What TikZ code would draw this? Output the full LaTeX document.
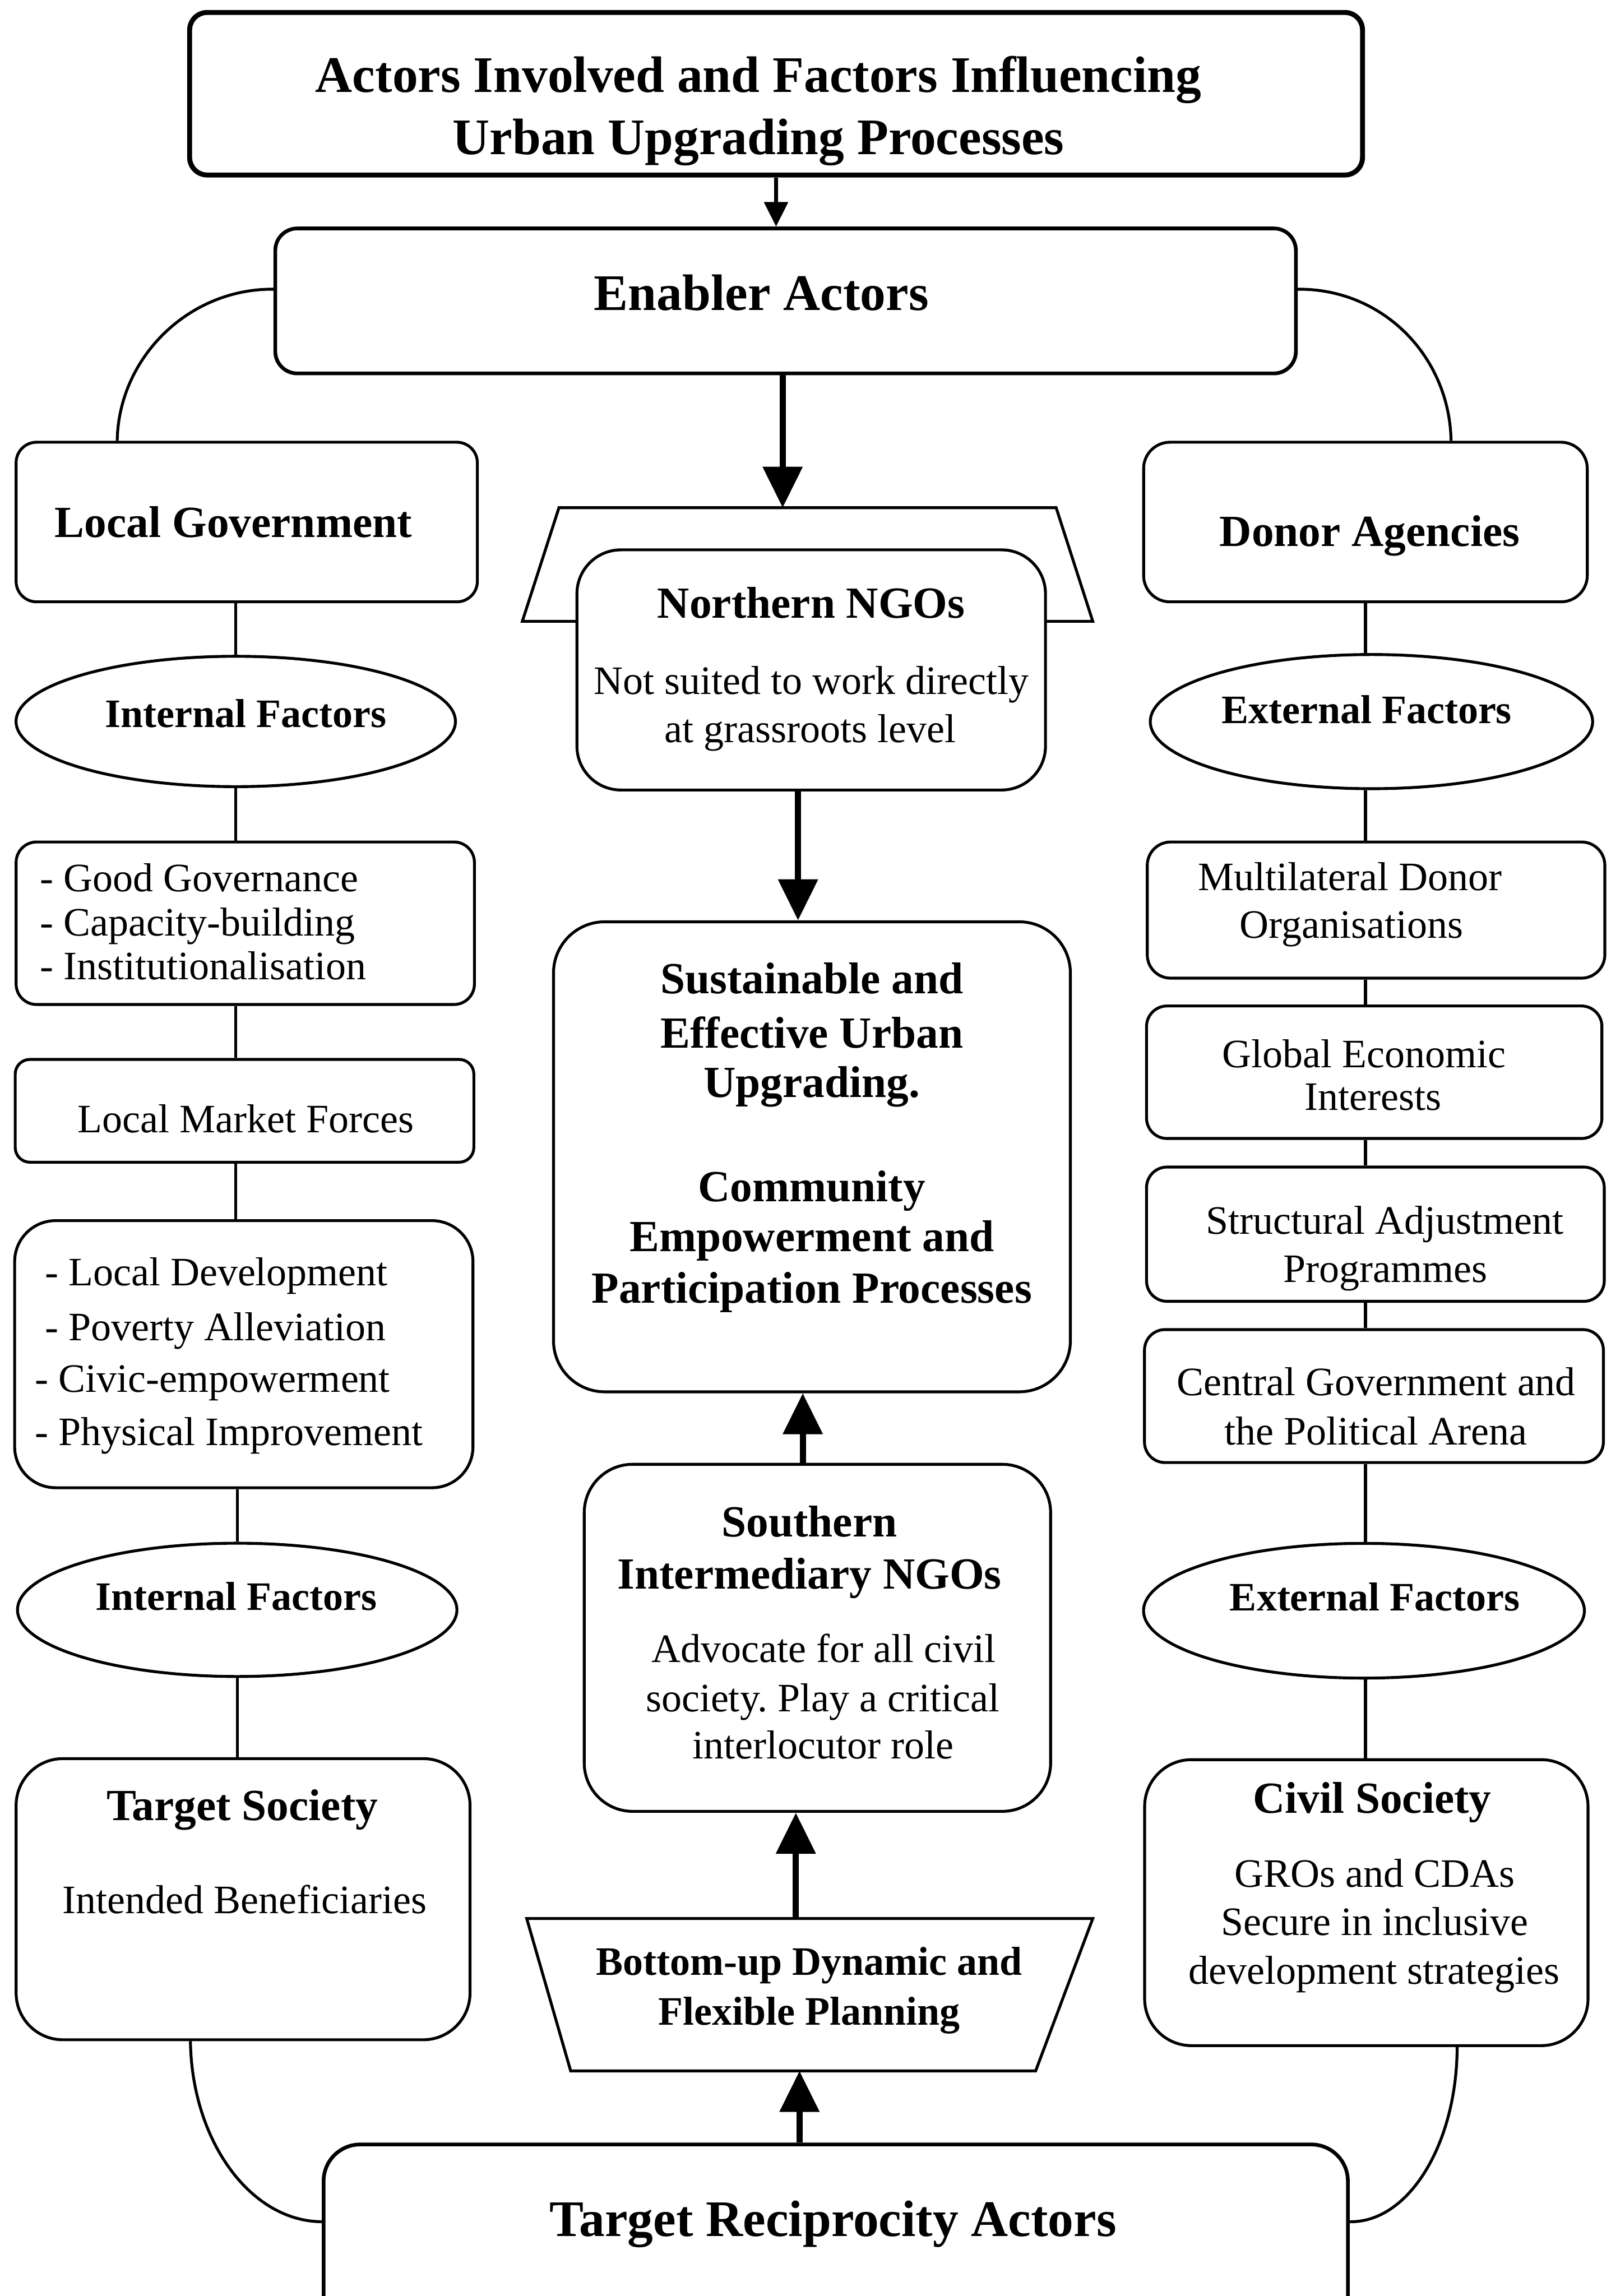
\documentclass[tikz,border=0pt]{standalone}
\usepackage{fontspec}
\setmainfont{Liberation Serif}
\usetikzlibrary{arrows.meta,shapes.geometric,fit,calc}
\frenchspacing

\begin{document}
\begin{tikzpicture}[x=0.025cm,y=-0.025cm,
  box/.style={draw, line width=1.4pt, fill=white, inner sep=0pt},
  oval/.style={draw, ellipse, line width=1.4pt, fill=white, inner sep=0pt},
  link/.style={line width=1.4pt},
  flow/.style={line width=3pt, -{Triangle[length=0.7cm,width=0.66cm]}},
  smallflow/.style={line width=2pt, -{Triangle[length=0.42cm,width=0.4cm]}},
  ttl/.style={font=\bfseries\fontsize{24.9}{30}\selectfont, inner sep=0pt, anchor=base},
  hd/.style={font=\bfseries\fontsize{21.6}{26}\selectfont, inner sep=0pt, anchor=base},
  fb/.style={font=\bfseries\fontsize{19.6}{23}\selectfont, inner sep=0pt, anchor=base},
  tx/.style={font=\fontsize{19.6}{23}\selectfont, inner sep=0pt, anchor=base},
  txl/.style={tx, anchor=base west}
]
\path[use as bounding box, fill=white] (0,0) rectangle (1100,1568);
\clip (0,0) rectangle (1100,1568);

% ---------- top of the chart ----------
\node[box, line width=2.4pt, rounded corners=0.3cm, fit={(129.5,8.5)(930.5,119.5)}] (title) {};
\node[ttl] (t-title1) at (518,63) {Actors Involved and Factors Influencing};
\node[ttl] (t-title2) at (518,105.3) {Urban Upgrading Processes};

\node[box, line width=1.8pt, rounded corners=0.375cm, fit={(188,156)(885,255)}] (enabler) {};
\node[ttl] (t-enabler) at (520,212) {Enabler Actors};

% ---------- centre column ----------
\node[inner sep=0pt, fit={(357,347)(746,424)}] (ntrap) {};
\draw[link] (ntrap.south west) -- ([xshift=0.625cm]ntrap.north west)
  -- ([xshift=-0.625cm]ntrap.north east) -- (ntrap.south east) -- cycle;

\node[box, rounded corners=0.75cm, fit={(394,375.5)(714,539.5)}] (north) {};
\node[hd] (t-north) at (554,422) {Northern NGOs};
\node[tx] (t-north1) at (554,474) {Not suited to work directly};
\node[tx] (t-north2) at (553.5,507) {at grassroots level};

\node[box, rounded corners=0.875cm, fit={(378,629.5)(731,950.5)}] (sust) {};
\node[hd] (t-sust1) at (554.4,678.6) {Sustainable and};
\node[hd] (t-sust2) at (554.4,715.5) {Effective Urban};
\node[hd] (t-sust3) at (554.4,749.4) {Upgrading.};
\node[hd] (t-sust4) at (554.4,820.6) {Community};
\node[hd] (t-sust5) at (554.4,854.5) {Empowerment and};
\node[hd] (t-sust6) at (554.4,890) {Participation Processes};

\node[box, rounded corners=0.825cm, fit={(399,1000)(717.5,1237)}] (south) {};
\node[hd] (t-south1) at (552.8,1049.3) {Southern};
\node[hd] (t-south2) at (552.8,1085) {Intermediary NGOs};
\node[tx] (t-south3) at (562.4,1135.3) {Advocate for all civil};
\node[tx] (t-south4) at (561.8,1169) {society. Play a critical};
\node[tx] (t-south5) at (562,1201) {interlocutor role};

\node[inner sep=0pt, fit={(360,1310.5)(746,1414)}] (btrap) {};
\draw[link] (btrap.north west) -- (btrap.north east)
  -- ([xshift=-0.975cm]btrap.south east) -- ([xshift=0.75cm]btrap.south west) -- cycle;
\node[fb] (t-btrap1) at (552.5,1349) {Bottom-up Dynamic and};
\node[fb] (t-btrap2) at (552.5,1383) {Flexible Planning};

\node[box, line width=1.8pt, rounded corners=0.625cm, fit={(221,1464.5)(920.5,1600)}] (target) {};
\node[ttl] (t-target) at (569,1527.4) {Target Reciprocity Actors};

% ---------- left column ----------
\node[box, rounded corners=0.35cm, fit={(11,302)(326,411)}] (lg) {};
\node[hd] (t-lg) at (159.4,367) {Local Government};

\node[oval, minimum width=7.5cm, minimum height=2.225cm] (if1) at (161,492.7) {};
\node[fb] (t-if1) at (168,496.8) {Internal Factors};

\node[box, rounded corners=0.35cm, fit={(11,575)(324,686)}] (gg) {};
\node[txl] (t-gg1) at (27,609) {- Good Governance};
\node[txl] (t-gg2) at (27,639) {- Capacity-building};
\node[txl] (t-gg3) at (27,669) {- Institutionalisation};

\node[box, rounded corners=0.25cm, fit={(10.4,723.5)(323.6,793.7)}] (lmf) {};
\node[tx] (t-lmf) at (167.9,773.6) {Local Market Forces};

\node[box, rounded corners=0.7cm, fit={(10,833.6)(323,1016)}] (ld) {};
\node[txl] (t-ld1) at (30.4,878) {- Local Development};
\node[txl] (t-ld2) at (30.4,915.6) {- Poverty Alleviation};
\node[txl] (t-ld3) at (23.5,950.7) {- Civic-empowerment};
\node[txl] (t-ld4) at (23.5,987) {- Physical Improvement};

\node[oval, minimum width=7.5cm, minimum height=2.275cm] (if2) at (162,1099.4) {};
\node[fb] (t-if2) at (161.3,1099.6) {Internal Factors};

\node[box, rounded corners=0.8cm, fit={(11,1201)(321,1393)}] (ts) {};
\node[hd] (t-ts1) at (165.4,1243) {Target Society};
\node[tx] (t-ts2) at (167,1306.6) {Intended Beneficiaries};

% ---------- right column ----------
\node[box, rounded corners=0.45cm, fit={(781,302)(1084,411)}] (donor) {};
\node[hd] (t-donor) at (935.4,373) {Donor Agencies};

\node[oval, minimum width=7.55cm, minimum height=2.29cm] (ef1) at (936.6,492.8) {};
\node[fb] (t-ef1) at (933.3,494) {External Factors};

\node[box, rounded corners=0.4cm, fit={(783.5,575)(1096,668)}] (mult) {};
\node[tx] (t-mult1) at (921.8,608) {Multilateral Donor};
\node[tx] (t-mult2) at (922.9,640.6) {Organisations};

\node[box, rounded corners=0.35cm, fit={(783,687)(1094,777.5)}] (glob) {};
\node[tx] (t-glob1) at (931.6,729) {Global Economic};
\node[tx] (t-glob2) at (937.6,758) {Interests};

\node[box, rounded corners=0.35cm, fit={(783,797)(1095.6,888.7)}] (struct) {};
\node[tx] (t-struct1) at (945.8,842.8) {Structural Adjustment};
\node[tx] (t-struct2) at (946,875.6) {Programmes};

\node[box, rounded corners=0.35cm, fit={(781.6,908)(1095,998.8)}] (cent) {};
\node[tx] (t-cent1) at (939.8,953) {Central Government and};
\node[tx] (t-cent2) at (939.5,986.7) {the Political Arena};

\node[oval, minimum width=7.525cm, minimum height=2.3cm] (ef2) at (931.5,1100) {};
\node[fb] (t-ef2) at (939,1100) {External Factors};

\node[box, rounded corners=0.8cm, fit={(781.7,1201.7)(1084.5,1397)}] (civil) {};
\node[hd] (t-civil1) at (937,1238) {Civil Society};
\node[tx] (t-civil2) at (939,1288.7) {GROs and CDAs};
\node[tx] (t-civil3) at (938.7,1321.5) {Secure in inclusive};
\node[tx] (t-civil4) at (938.5,1355) {development strategies};

% ---------- arrows of the centre column ----------
\draw[smallflow] (title.south) -- (title.south |- enabler.north);
\draw[flow] ([xshift=-0.05cm]enabler.south) -- ([xshift=-0.05cm]enabler.south |- ntrap.north);
\draw[flow] ($(north.south)+(-9,0)$) -- ($(north.south |- sust.north)+(-9,0)$);
\draw[flow] ($(south.north)+(-10,0)$) -- ($(south.north |- sust.south)+(-10,0)$);
\draw[flow] ($(btrap.north)+(-9.5,0)$) -- ($(btrap.north |- south.south)+(-9.5,0)$);
\draw[flow] ($(btrap.south |- target.north)+(-7,0)$) -- ($(btrap.south)+(-7,0)$);

% ---------- links of the left column ----------
\draw[link] (if1.north |- lg.south) -- (if1.north);
\draw[link] (if1.south) -- (if1.south |- gg.north);
\draw[link] (if1.south |- gg.south) -- (if1.south |- lmf.north);
\draw[link] (if1.south |- lmf.south) -- (if1.south |- ld.north);
\draw[link] (if2.north |- ld.south) -- (if2.north);
\draw[link] (if2.south) -- (if2.south |- ts.north);

% ---------- links of the right column ----------
\draw[link] (donor.south) -- (donor.south |- ef1.north);
\draw[link] (donor.south |- ef1.south) -- (donor.south |- mult.north);
\draw[link] (donor.south |- mult.south) -- (donor.south |- glob.north);
\draw[link] (donor.south |- glob.south) -- (donor.south |- struct.north);
\draw[link] (donor.south |- struct.south) -- (donor.south |- cent.north);
\draw[link] (donor.south |- cent.south) -- (donor.south |- ef2.north);
\draw[link] (donor.south |- ef2.south) -- (donor.south |- civil.north);

% ---------- outer arcs ----------
\draw[link] ([yshift=0.2cm]enabler.west) .. controls (129,197) and (81,244) .. ([xshift=1.75cm]lg.north west);
\draw[link] ([yshift=0.2cm]enabler.east) .. controls (945,197) and (990,244) .. ([xshift=-2.35cm]donor.north east);
\draw[link] ([xshift=3cm]ts.south west) .. controls (131,1462) and (171,1517) .. ([yshift=0.375cm]target.west);
\draw[link] ([xshift=1.55cm]civil.south) .. controls (995,1464) and (962,1518) .. ([yshift=0.375cm]target.east);
\end{tikzpicture}
\end{document}
